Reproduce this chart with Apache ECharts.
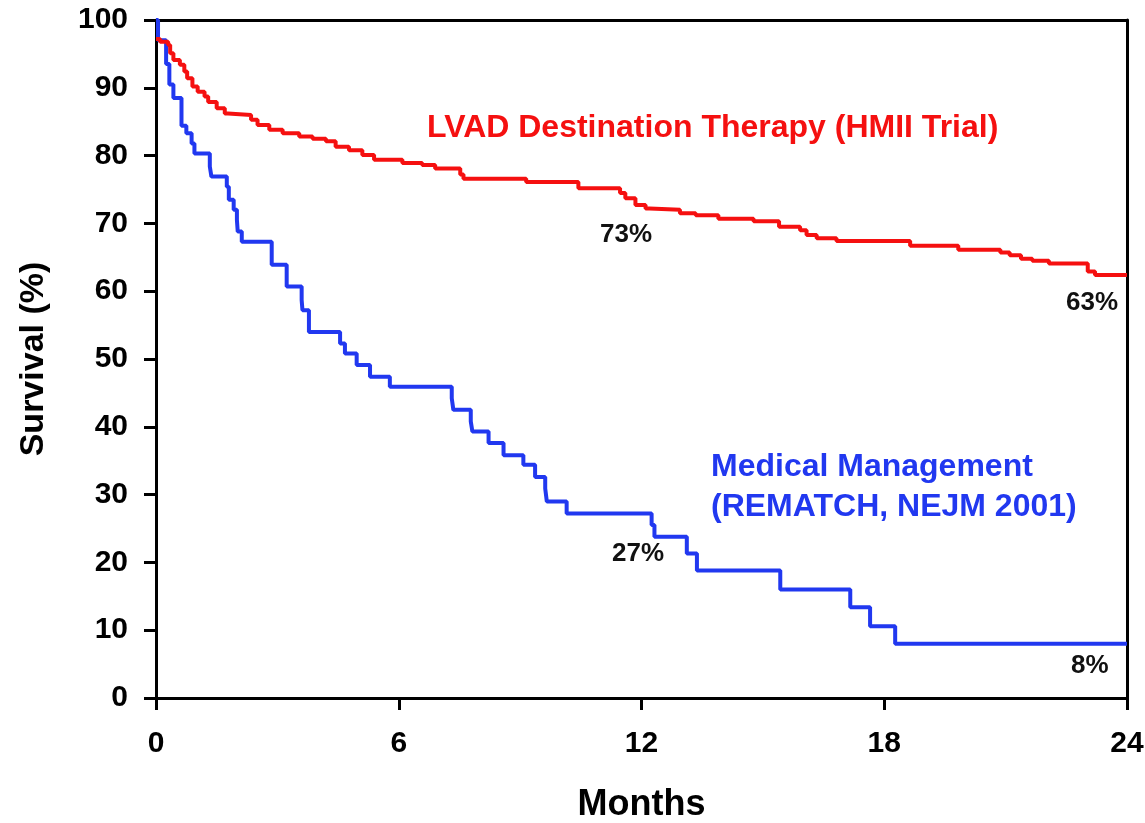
<!DOCTYPE html>
<html>
<head>
<meta charset="utf-8">
<script src="https://cdn.jsdelivr.net/npm/echarts@6/dist/echarts.min.js"></script>
<style>
html,body{margin:0;padding:0;background:#fff;}
#chart{width:1145px;height:823px;}
</style>
</head>
<body>
<div id="chart"></div>
<script>
// Kaplan-Meier style survival curves: [month, survival %], value holds from that month on
var lvadCurve = [
  [0,97.2],[0.1,96.8],[0.3,96.3],[0.35,95.1],[0.43,94.1],[0.59,93.4],[0.7,92.4],[0.77,91.4],
  [0.9,90.2],[1.03,89.4],[1.2,88.7],[1.29,87.9],[1.5,87.0],[1.7,86.2],[1.78,86.0],[2.35,85.3],
  [2.51,84.5],[2.8,83.8],[3.13,83.3],[3.54,82.8],[3.87,82.5],[4.2,82.1],[4.44,81.3],[4.77,80.8],
  [5.1,80.1],[5.39,79.4],[6.09,78.9],[6.58,78.6],[6.9,78.1],[7.52,77.2],[7.6,76.6],[9.15,76.1],
  [10.44,75.2],[11.47,74.5],[11.6,73.7],[11.85,72.7],[12.1,72.2],[12.2,72.0],[12.95,71.5],
  [13.34,71.2],[13.9,70.7],[14.77,70.3],[15.4,69.5],[15.92,69.0],[16.08,68.3],[16.33,67.8],
  [16.82,67.4],[18.64,66.7],[19.83,66.1],[20.87,65.7],[21.1,65.3],[21.38,64.8],[21.66,64.5],
  [22.07,64.1],[23.03,62.9],[23.21,62.4],[24,62.4]
];
var medicalCurve = [
  [0,100],[0.05,97],[0.25,93.5],[0.33,90.5],[0.43,88.5],[0.63,84.4],[0.75,83.3],[0.88,81.8],
  [0.95,80.3],[1.33,78.4],[1.37,76.9],[1.75,75.4],[1.8,73.5],[1.92,72.0],[2.0,70.5],[2.02,68.8],
  [2.12,67.3],[2.86,63.9],[3.23,60.7],[3.6,58.7],[3.62,57.2],[3.78,54.0],[4.55,52.3],[4.67,50.8],
  [4.96,49.1],[5.29,47.4],[5.78,45.9],[7.31,44.2],[7.35,42.5],[7.78,40.8],[7.82,39.3],[8.22,37.6],
  [8.59,35.8],[9.08,34.4],[9.37,32.6],[9.62,30.9],[9.66,29.0],[10.15,27.2],[12.25,25.5],
  [12.32,23.8],[13.12,21.3],[13.37,18.8],[15.43,16.0],[17.16,13.4],[17.65,10.6],[18.27,8.0],[24,8.0]
];
var seriesNames = ['LVAD Destination Therapy (HMII Trial)', 'Medical Management\n(REMATCH, NEJM 2001)'];
var percentLabels = ['73%', '63%', '27%', '8%'];
var xTicks = [0, 6, 12, 18, 24];
var yTicks = [0, 10, 20, 30, 40, 50, 60, 70, 80, 90, 100];

var RED = '#f51010', BLUE = '#2138f0';
var FONT = "'Liberation Sans', Arial, Helvetica, sans-serif";

var chart = echarts.init(document.getElementById('chart'), null, {renderer: 'canvas'});
var axisLineStyle = {color: '#000', width: 3};
chart.setOption({
  animation: false,
  backgroundColor: '#fff',
  grid: {left: 156, right: 18, top: 20, bottom: 125, containLabel: false, outerBoundsMode: 'none'},
  xAxis: [{
    type: 'value', min: xTicks[0], max: xTicks[xTicks.length - 1], interval: 6,
    name: 'Months', nameLocation: 'middle', nameGap: 89,
    nameTextStyle: {fontFamily: FONT, fontWeight: 'bold', fontSize: 36, color: '#000'},
    axisLine: {show: true, onZero: false, lineStyle: axisLineStyle},
    axisTick: {show: true, inside: false, length: 12, lineStyle: {color: '#000', width: 3}},
    axisLabel: {margin: 31, fontFamily: FONT, fontWeight: 'bold', fontSize: 30, color: '#000'},
    splitLine: {show: false}
  }, {
    type: 'value', position: 'top', min: 0, max: 24,
    axisLine: {show: true, onZero: false, lineStyle: axisLineStyle},
    axisTick: {show: false}, axisLabel: {show: false}, splitLine: {show: false}
  }],
  yAxis: [{
    type: 'value', min: yTicks[0], max: yTicks[yTicks.length - 1], interval: 10,
    name: 'Survival (%)', nameLocation: 'middle', nameGap: 105,
    nameTextStyle: {fontFamily: FONT, fontWeight: 'bold', fontSize: 34, color: '#000'},
    axisLine: {show: true, onZero: false, lineStyle: axisLineStyle},
    axisTick: {show: true, inside: false, length: 12, lineStyle: {color: '#000', width: 3}},
    axisLabel: {margin: 28, fontFamily: FONT, fontWeight: 'bold', fontSize: 30, color: '#000'},
    splitLine: {show: false}
  }, {
    type: 'value', position: 'right', min: 0, max: 100,
    axisLine: {show: true, onZero: false, lineStyle: axisLineStyle},
    axisTick: {show: false}, axisLabel: {show: false}, splitLine: {show: false}
  }],
  series: [{
    name: seriesNames[1], type: 'line', step: 'end', data: medicalCurve,
    showSymbol: false, symbol: 'none', clip: false,
    lineStyle: {color: BLUE, width: 4}, z: 3
  }, {
    name: seriesNames[0], type: 'line', step: 'end', data: lvadCurve,
    showSymbol: false, symbol: 'none', clip: false,
    lineStyle: {color: RED, width: 4}, z: 4
  }],
  graphic: [
    {type: 'text', left: 427, top: 112, style: {text: seriesNames[0], fill: RED, font: 'bold 32px ' + FONT}},
    {type: 'text', left: 711, top: 447, style: {text: seriesNames[1], fill: BLUE, font: 'bold 32px ' + FONT, lineHeight: 40}},
    {type: 'text', left: 600, top: 222, style: {text: percentLabels[0], fill: '#111', font: 'bold 26px ' + FONT}},
    {type: 'text', left: 1066, top: 290, style: {text: percentLabels[1], fill: '#111', font: 'bold 26px ' + FONT}},
    {type: 'text', left: 612, top: 541, style: {text: percentLabels[2], fill: '#111', font: 'bold 26px ' + FONT}},
    {type: 'text', left: 1071, top: 653, style: {text: percentLabels[3], fill: '#111', font: 'bold 26px ' + FONT}}
  ]
});
</script>
</body>
</html>
